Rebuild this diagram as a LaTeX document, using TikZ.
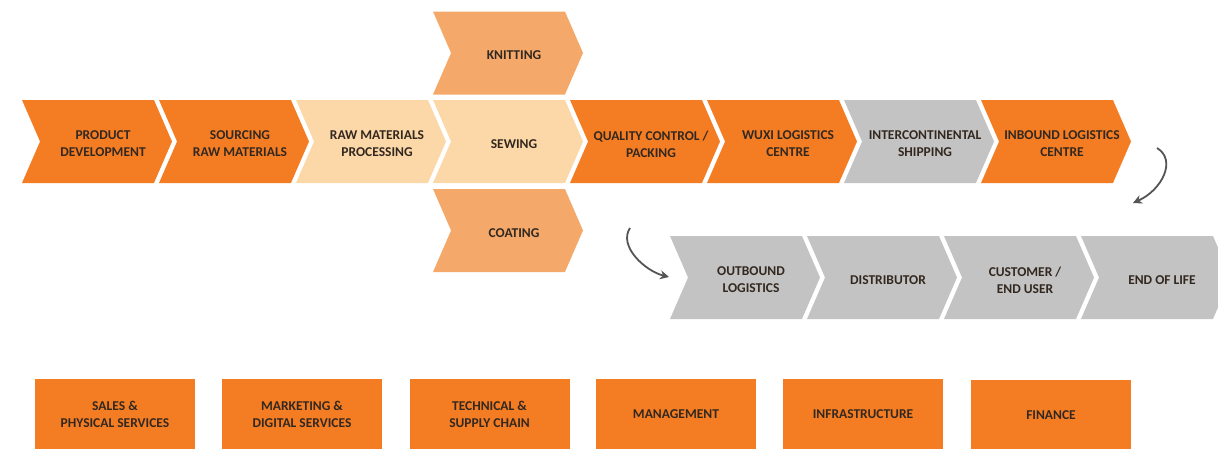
\documentclass[tikz,border=0pt]{standalone}
\usepackage{fontspec}
\setmainfont{Carlito}
\usetikzlibrary{shapes.symbols,arrows.meta}
\definecolor{orng}{HTML}{F47D24}
\definecolor{peach}{HTML}{FCD8A9}
\definecolor{apricot}{HTML}{F4A96A}
\definecolor{grey}{HTML}{C3C3C3}
\definecolor{ink}{HTML}{33281F}
\definecolor{arr}{HTML}{555555}
\begin{document}
\begin{tikzpicture}[x=1pt,y=-1pt,
  chev/.style={signal,signal to=east,signal from=west,signal pointer angle=133,
    minimum width=150pt,minimum height=83pt,inner sep=0pt,outer sep=0pt},
  txt/.style={text=ink,align=center,inner sep=0pt,xshift=6pt,yshift=-2.5pt,
    font=\fontsize{13.5}{17}\selectfont\bfseries},
  box/.style={rectangle,fill=orng,minimum width=160pt,minimum height=72pt,
    inner sep=0pt,text=ink,align=center,font=\fontsize{13.5}{17}\selectfont\bfseries},
  curv/.style={draw=arr,line width=1.8pt,-{Stealth[length=9pt,width=9pt]}}]
\fill[white](0,0) rectangle (1218,448);
\useasboundingbox (0,0) rectangle (1218,448);
\node[chev,fill=apricot,label={[txt]center:KNITTING}] (knit) at (508,53) {};
\node[chev,fill=orng,label={[txt]center:{PRODUCT\\DEVELOPMENT}}] (prod) at (97,141.5) {};
\node[chev,fill=orng,label={[txt]center:{SOURCING\\RAW MATERIALS}}] (sourc) at (234,141.5) {};
\node[chev,fill=peach,label={[txt]center:{RAW MATERIALS\\PROCESSING}}] (rawm) at (371,141.5) {};
\node[chev,fill=peach,label={[txt]center:SEWING}] (sew) at (508,141.5) {};
\node[chev,fill=orng,label={[txt]center:{QUALITY CONTROL /\\PACKING}}] (qc) at (645,141.5) {};
\node[chev,fill=orng,label={[txt]center:{WUXI LOGISTICS\\CENTRE}}] (wuxi) at (782,141.5) {};
\node[chev,fill=grey,label={[txt]center:{INTERCONTINENTAL\\SHIPPING}}] (ship) at (919,141.5) {};
\node[chev,fill=orng,label={[txt]center:{INBOUND LOGISTICS\\CENTRE}}] (inb) at (1056,141.5) {};
\node[chev,fill=apricot,label={[txt]center:COATING}] (coat) at (508,230.5) {};
\node[chev,fill=grey,label={[txt]center:{OUTBOUND\\LOGISTICS}}] (outb) at (745,277.5) {};
\node[chev,fill=grey,label={[txt]center:DISTRIBUTOR}] (dist) at (882,277.5) {};
\node[chev,fill=grey,label={[txt]center:{CUSTOMER /\\END USER}}] (cust) at (1019,277.5) {};
\node[chev,fill=grey,label={[txt]center:END OF LIFE}] (eol) at (1156,277.5) {};
\coordinate (a1s) at (1157,148);
\coordinate (a1e) at (1133,203);
\coordinate (a2s) at (630,228);
\coordinate (a2e) at (669,277);
\draw[curv] (a1s) .. controls (1177,160) and (1162,190) .. (a1e);
\draw[curv] (a2s) .. controls (618,246) and (645,271) .. (a2e);
\node[box] (sales) at (115,414.5) {SALES \&\\PHYSICAL SERVICES};
\node[box] (mkt) at (302,414.5) {MARKETING \&\\DIGITAL SERVICES};
\node[box] (tech) at (489.5,414.5) {TECHNICAL \&\\SUPPLY CHAIN};
\node[box] (mgmt) at (676,414.5) {MANAGEMENT};
\node[box] (infra) at (863,414.5) {INFRASTRUCTURE};
\node[box,minimum height=71pt] (fin) at (1051,415.5) {FINANCE};
\end{tikzpicture}
\end{document}
